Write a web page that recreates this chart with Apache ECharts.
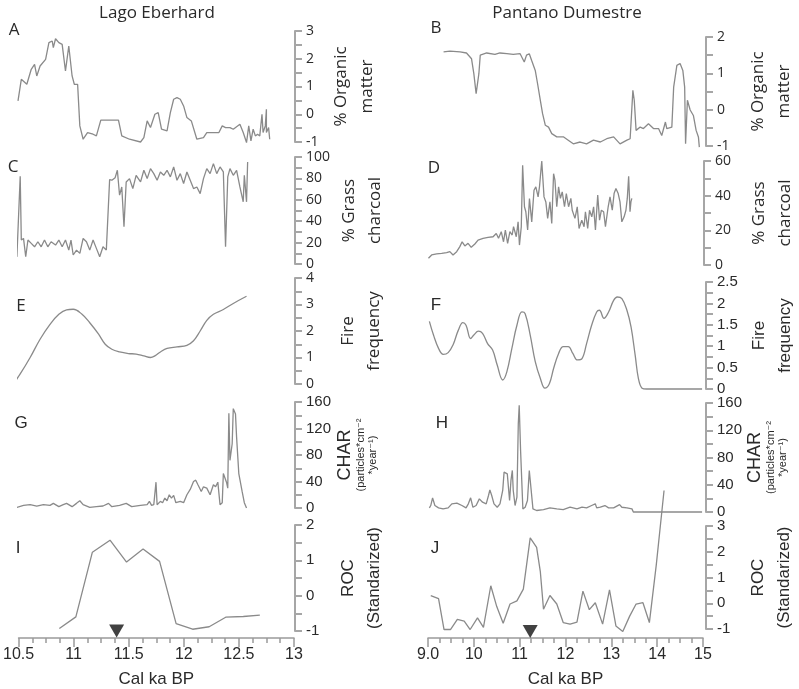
<!DOCTYPE html>
<html><head><meta charset="utf-8">
<script src="https://cdn.jsdelivr.net/npm/echarts/dist/echarts.min.js"></script>
<style>html,body{margin:0;padding:0;background:#fff}#c{width:799px;height:689px}</style>
</head><body><div id="c"></div>
<script>
// ---- Data (x = Cal ka BP, y = value) ----
const organicEberhard = [[10.50,0.48],[10.53,1.26],[10.58,1.08],[10.62,1.62],[10.65,1.80],[10.67,1.38],[10.70,1.74],[10.75,1.98],[10.78,2.58],[10.81,2.64],[10.82,2.40],[10.84,2.72],[10.87,2.58],[10.90,2.52],[10.93,1.56],[10.96,2.46],[10.99,1.38],[11.01,1.08],[11.04,1.08],[11.06,-0.42],[11.09,-0.90],[11.13,-0.66],[11.18,-0.72],[11.21,-0.78],[11.25,-0.21],[11.41,-0.21],[11.44,-0.78],[11.51,-0.90],[11.61,-1.00],[11.64,-0.84],[11.67,-0.24],[11.70,-0.48],[11.74,0.00],[11.77,0.06],[11.80,-0.54],[11.85,-0.60],[11.88,0.06],[11.91,0.54],[11.94,0.60],[11.97,0.54],[12.00,0.30],[12.03,-0.12],[12.07,-0.24],[12.12,-0.90],[12.18,-0.84],[12.21,-0.66],[12.32,-0.66],[12.35,-0.42],[12.38,-0.48],[12.42,-0.48],[12.45,-0.54],[12.51,-0.36],[12.54,-0.66],[12.57,-1.02],[12.59,-0.42],[12.61,-0.96],[12.63,-0.54],[12.65,-0.78],[12.67,-0.72],[12.69,-0.78],[12.71,0.00],[12.72,-0.66],[12.74,-0.42],[12.75,0.18],[12.75,-0.66],[12.77,-0.48],[12.78,-0.90]];

const organicDumestre = [[9.34,1.59],[9.48,1.61],[9.70,1.59],[9.84,1.56],[9.95,1.40],[10.00,0.99],[10.05,0.44],[10.08,0.39],[10.11,0.99],[10.14,1.50],[10.28,1.56],[10.46,1.52],[10.57,1.56],[10.72,1.54],[10.86,1.52],[11.01,1.54],[11.10,1.31],[11.15,1.50],[11.21,1.54],[11.26,1.36],[11.34,1.08],[11.39,0.72],[11.45,0.26],[11.50,-0.11],[11.56,-0.43],[11.63,-0.48],[11.70,-0.66],[11.81,-0.75],[11.96,-0.75],[12.06,-0.84],[12.17,-0.94],[12.32,-0.89],[12.46,-0.94],[12.61,-0.84],[12.76,-0.89],[12.90,-0.80],[13.05,-0.75],[13.19,-0.94],[13.34,-0.84],[13.41,-0.80],[13.47,0.53],[13.50,0.26],[13.54,-0.57],[13.63,-0.48],[13.70,-0.52],[13.81,-0.39],[13.92,-0.52],[14.03,-0.52],[14.10,-0.71],[14.18,-0.34],[14.21,-0.52],[14.32,-0.48],[14.36,0.62],[14.43,1.22],[14.50,1.27],[14.56,1.08],[14.60,0.62],[14.62,-0.94],[14.66,0.26],[14.72,-0.01],[14.79,-0.16],[14.85,-0.57],[14.90,-0.75],[14.92,-1.03]];

const grassEberhard = [[10.42,19.3],[10.44,6.8],[10.47,8.4],[10.49,6.8],[10.52,82.0],[10.53,22.4],[10.55,23.9],[10.57,6.8],[10.59,22.4],[10.62,19.3],[10.65,16.1],[10.68,20.8],[10.71,16.1],[10.74,22.4],[10.77,16.1],[10.80,20.8],[10.84,17.7],[10.87,22.4],[10.90,16.1],[10.93,22.4],[10.96,13.0],[10.98,22.4],[11.00,8.4],[11.03,13.0],[11.06,9.9],[11.09,23.9],[11.12,20.8],[11.15,13.0],[11.18,22.4],[11.21,14.6],[11.24,6.8],[11.27,16.1],[11.30,13.0],[11.33,78.9],[11.35,78.3],[11.38,80.7],[11.40,87.6],[11.42,64.3],[11.44,72.0],[11.46,34.8],[11.48,76.7],[11.51,79.8],[11.54,70.5],[11.57,82.9],[11.61,76.7],[11.64,87.6],[11.67,79.8],[11.70,89.1],[11.73,84.5],[11.76,78.3],[11.79,86.0],[11.82,82.9],[11.85,87.6],[11.88,81.4],[11.91,90.7],[11.94,78.3],[11.97,84.5],[12.00,75.2],[12.03,86.0],[12.06,78.3],[12.09,70.5],[12.12,72.0],[12.15,65.8],[12.18,79.8],[12.21,89.1],[12.24,84.5],[12.27,93.8],[12.30,84.5],[12.33,90.7],[12.36,86.0],[12.38,16.1],[12.40,81.4],[12.42,89.1],[12.45,82.9],[12.48,87.6],[12.51,72.0],[12.54,58.1],[12.55,82.9],[12.57,58.1],[12.58,95.3]];

const grassDumestre = [[9.01,3.9],[9.08,5.8],[9.19,6.4],[9.30,6.7],[9.41,7.1],[9.48,7.7],[9.55,5.8],[9.63,7.7],[9.70,10.6],[9.75,13.4],[9.81,11.0],[9.88,12.5],[9.95,10.2],[10.03,12.1],[10.10,14.4],[10.21,15.4],[10.32,15.9],[10.43,16.3],[10.50,18.2],[10.55,15.4],[10.61,19.2],[10.66,13.4],[10.70,20.2],[10.75,12.5],[10.80,19.2],[10.85,17.3],[10.88,22.1],[10.94,16.3],[10.98,24.9],[11.01,11.5],[11.05,22.1],[11.08,57.5],[11.12,33.6],[11.15,30.7],[11.19,20.2],[11.23,38.4],[11.28,24.9],[11.33,43.1],[11.37,45.1],[11.42,39.3],[11.45,45.1],[11.50,60.0],[11.55,39.3],[11.59,36.4],[11.63,26.9],[11.68,36.4],[11.72,24.0],[11.76,52.7],[11.79,48.9],[11.83,33.6],[11.87,45.1],[11.91,38.4],[11.95,42.2],[12.00,33.6],[12.04,41.2],[12.09,33.6],[12.14,38.4],[12.17,31.6],[12.23,26.9],[12.28,33.6],[12.32,21.1],[12.38,25.9],[12.43,22.1],[12.46,30.7],[12.51,21.1],[12.55,31.6],[12.60,27.8],[12.64,33.6],[12.68,20.2],[12.73,40.3],[12.77,25.9],[12.81,31.6],[12.86,30.7],[12.90,22.1],[12.96,33.6],[13.00,39.3],[13.05,31.6],[13.09,41.2],[13.13,44.1],[13.18,41.2],[13.22,36.4],[13.26,24.9],[13.31,27.8],[13.35,31.6],[13.38,38.4],[13.41,51.2],[13.44,30.7],[13.46,36.4],[13.48,38.4]];

const fireEberhard = [[10.44,-0.1],[10.52,0.38],[10.61,1.0],[10.70,1.69],[10.79,2.25],[10.87,2.63],[10.94,2.80],[11.00,2.82],[11.08,2.63],[11.15,2.31],[11.23,1.88],[11.29,1.50],[11.35,1.31],[11.42,1.21],[11.50,1.15],[11.57,1.13],[11.64,1.06],[11.70,1.00],[11.74,1.06],[11.79,1.21],[11.85,1.34],[11.94,1.40],[12.03,1.46],[12.09,1.63],[12.15,2.00],[12.21,2.40],[12.27,2.63],[12.36,2.81],[12.45,3.04],[12.57,3.31]];

const fireDumestre = [[9.03,1.58],[9.12,1.26],[9.23,0.95],[9.33,0.81],[9.44,0.85],[9.55,1.04],[9.66,1.37],[9.76,1.55],[9.83,1.49],[9.93,1.18],[10.00,1.26],[10.10,1.35],[10.19,1.30],[10.30,1.06],[10.41,0.91],[10.51,0.56],[10.63,0.21],[10.72,0.40],[10.83,0.95],[10.94,1.49],[11.05,1.80],[11.12,1.76],[11.23,1.26],[11.34,0.64],[11.45,0.25],[11.55,0.02],[11.65,0.13],[11.74,0.48],[11.85,0.83],[11.95,0.99],[12.06,0.99],[12.16,0.83],[12.26,0.68],[12.36,0.71],[12.46,1.06],[12.57,1.49],[12.68,1.80],[12.74,1.84],[12.84,1.65],[12.94,1.80],[13.05,2.07],[13.13,2.15],[13.23,2.11],[13.34,1.84],[13.43,1.45],[13.52,0.79],[13.59,0.25],[13.67,0.02],[13.77,0],[14.21,0],[14.98,0]];

const charEberhard = [[10.43,2],[10.49,1],[10.55,4],[10.61,5],[10.67,3],[10.73,5],[10.79,4],[10.82,7],[10.87,2],[10.91,5],[10.94,7],[10.99,2],[11.03,7],[11.06,11],[11.09,5],[11.15,1],[11.21,2],[11.27,3],[11.32,7],[11.35,2],[11.42,4],[11.48,7],[11.53,2],[11.61,4],[11.67,5],[11.69,10],[11.71,4],[11.73,5],[11.75,39],[11.76,5],[11.79,10],[11.81,8],[11.83,15],[11.85,11],[11.87,20],[11.89,15],[11.91,19],[11.93,8],[11.97,10],[12.00,8],[12.03,20],[12.06,28],[12.09,40],[12.11,42],[12.13,35],[12.16,25],[12.18,32],[12.21,30],[12.24,20],[12.27,35],[12.29,32],[12.31,39],[12.33,5],[12.35,8],[12.36,52],[12.39,38],[12.40,30],[12.41,143],[12.42,72],[12.44,97],[12.45,150],[12.47,142],[12.48,107],[12.50,52],[12.53,25],[12.55,8],[12.57,0]];

const charDumestre = [[9.03,6],[9.06,9.5],[9.10,20.8],[9.15,9.5],[9.23,6],[9.33,4.6],[9.44,6],[9.52,12],[9.63,13],[9.74,9.5],[9.83,6],[9.88,12],[9.93,20.8],[9.98,7],[10.05,9.5],[10.12,19.3],[10.19,14.4],[10.27,12],[10.32,24.2],[10.35,32.5],[10.39,24.2],[10.44,12],[10.51,7],[10.57,12],[10.63,31.6],[10.66,58.5],[10.70,61],[10.73,56],[10.78,16.9],[10.81,46.3],[10.84,61],[10.86,31.6],[10.90,9.5],[10.94,21.8],[10.97,129.6],[10.99,156.6],[11.02,90.4],[11.07,4.6],[11.12,7],[11.17,16.9],[11.21,61],[11.25,58.5],[11.29,4.6],[11.37,2.2],[11.52,3.6],[11.66,6],[11.81,4.6],[11.95,3.6],[12.10,7],[12.25,4.6],[12.36,7],[12.46,6],[12.57,9.5],[12.65,12],[12.68,6],[12.76,7],[12.86,9.5],[12.94,6],[13.05,6],[13.18,10.9],[13.23,7],[13.34,6],[13.45,4.6],[13.48,0],[14.98,0]];

const rocEberhard = [[10.87,-0.93],[11.02,-0.60],[11.17,1.23],[11.33,1.57],[11.48,0.95],[11.63,1.32],[11.78,0.97],[11.93,-0.79],[12.08,-0.95],[12.23,-0.88],[12.38,-0.61],[12.54,-0.59],[12.69,-0.55]];

const rocDumestre = [[9.06,0.30],[9.23,0.18],[9.35,-1.02],[9.49,-1.02],[9.64,-0.63],[9.79,-0.69],[9.92,-1.02],[10.08,-0.57],[10.21,-0.94],[10.37,0.68],[10.50,-0.13],[10.64,-0.78],[10.79,-0.03],[10.94,0.09],[11.08,0.55],[11.23,2.54],[11.37,2.17],[11.45,1.24],[11.52,-0.23],[11.66,0.30],[11.81,-0.03],[11.95,-0.75],[12.10,-0.81],[12.25,-0.73],[12.38,0.47],[12.52,-0.25],[12.65,0.02],[12.81,-0.81],[12.96,0.52],[13.10,-0.88],[13.25,-1.10],[13.40,-0.50],[13.54,-0.03],[13.69,0.02],[13.83,-0.75],[13.98,1.48],[14.15,4.38]];

const markerEberhard = [[11.39, -1.0]];
const markerDumestre = [[11.23, -1.1]];

const eberhardTicks = {min: 10.5, max: 13, interval: 0.5};
const dumestreTicks = {min: 9, max: 15, interval: 1};

// ---- Layout ----
const LEFT = Object.assign({left: 18, width: 276}, eberhardTicks);
const RIGHT = Object.assign({left: 428, width: 275}, dumestreTicks);
const OS = "'Open Sans', sans-serif";
const LS = "'Liberation Sans', Arial, 'DejaVu Sans', sans-serif";
const charName = '{a|CHAR}\n{b|(particles*cm⁻²}\n{b|*year⁻¹)}';

const panels = [
  {id:'A', col:LEFT,  top:31,  h:111, ymin:-1, ymax:3,   yint:1,   data:organicEberhard, name:'% Organic\nmatter',  ff:OS, fs:14, gap:33},
  {id:'B', col:RIGHT, top:37,  h:109, ymin:-1, ymax:2,   yint:1,   data:organicDumestre, name:'% Organic\nmatter',  ff:OS, fs:14, gap:39},
  {id:'C', col:LEFT,  top:157, h:107, ymin:0,  ymax:100, yint:20,  data:grassEberhard,   name:'% Grass\ncharcoal',  ff:OS, fs:14, gap:41},
  {id:'D', col:RIGHT, top:161, h:104, ymin:0,  ymax:60,  yint:20,  data:grassDumestre,   name:'% Grass\ncharcoal',  ff:OS, fs:14, gap:42},
  {id:'E', col:LEFT,  top:278, h:106, ymin:0,  ymax:4,   yint:1,   data:fireEberhard,    name:'Fire\nfrequency',    ff:OS, fs:14, gap:40, smooth:0.4},
  {id:'F', col:RIGHT, top:282, h:107, ymin:0,  ymax:2.5, yint:0.5, data:fireDumestre,    name:'Fire\nfrequency',    ff:LS, fs:15, gap:40, smooth:0.4},
  {id:'G', col:LEFT,  top:402, h:106, ymin:0,  ymax:160, yint:40,  data:charEberhard,    name:charName,             ff:LS, fs:15, gap:40, rich:true},
  {id:'H', col:RIGHT, top:403, h:109, ymin:0,  ymax:160, yint:40,  data:charDumestre,    name:charName,             ff:LS, fs:15, gap:37, rich:true},
  {id:'I', col:LEFT,  top:525, h:110, ymin:-1, ymax:2,   yint:1,   data:rocEberhard,     name:'ROC\n(Standarized)', ff:LS, fs:15, gap:40, marker:markerEberhard, axisOffset:7},
  {id:'J', col:RIGHT, top:526, h:107, ymin:-1, ymax:3,   yint:1,   data:rocDumestre,     name:'ROC\n(Standarized)', ff:LS, fs:15, gap:39, marker:markerDumestre, axisOffset:9}
];

const grid = [], xAxis = [], yAxis = [], series = [], graphic = [];
const AXC = '#a6a6a6', TXT = '#2a2a2a', LINEC = '#8a8a8a';

panels.forEach((p, i) => {
  grid.push({left: p.col.left, width: p.col.width, top: p.top, height: p.h, containLabel: false});
  const bottom = p.axisOffset !== undefined;
  xAxis.push({
    gridIndex: i, type: 'value', min: p.col.min, max: p.col.max, interval: p.col.interval,
    show: bottom, position: 'bottom', offset: bottom ? p.axisOffset : 0,
    axisLine: {show: true, onZero: false, lineStyle: {color: '#9a9a9a', width: 1.5}},
    axisTick: {show: true, length: 9, lineStyle: {color: '#9a9a9a', width: 1.5}},
    minorTick: {show: true, splitNumber: 4, length: 5, lineStyle: {color: '#9a9a9a', width: 1.5}},
    splitLine: {show: false},
    axisLabel: {show: true, margin: 9, color: TXT, fontSize: 16, fontFamily: LS,
      formatter: v => (p.col === RIGHT && v === 9) ? '9.0' : String(v), showMaxLabel: true},
    name: 'Cal ka BP', nameLocation: 'middle', nameGap: 33,
    nameTextStyle: {color: TXT, fontSize: 17, fontFamily: LS}
  });
  const nameStyle = p.rich ? {
      color: TXT, fontFamily: LS,
      rich: {a: {fontSize: 18, lineHeight: 20, fontFamily: LS, color: TXT},
             b: {fontSize: 11, lineHeight: 12, fontFamily: LS, color: TXT}}
    } : {color: TXT, fontSize: 17, lineHeight: 26, fontFamily: p.ff};
  yAxis.push({
    gridIndex: i, type: 'value', position: 'right', min: p.ymin, max: p.ymax, interval: p.yint,
    offset: p.col === RIGHT ? 3 : 1,
    axisLine: {show: true, onZero: false, lineStyle: {color: AXC, width: 2}},
    axisTick: {show: true, length: 7, lineStyle: {color: AXC, width: 2}},
    minorTick: {show: true, splitNumber: 2, length: 7, lineStyle: {color: AXC, width: 2}},
    splitLine: {show: false},
    axisLabel: {margin: 11, color: TXT, fontSize: p.fs, fontFamily: p.ff},
    name: p.name, nameLocation: 'middle', nameRotate: 90, nameGap: p.gap,
    nameTextStyle: nameStyle
  });
  series.push({
    type: 'line', xAxisIndex: i, yAxisIndex: i, data: p.data, showSymbol: false,
    smooth: p.smooth || false, clip: false,
    lineStyle: {color: LINEC, width: 1.3}, itemStyle: {color: LINEC}
  });
  if (p.marker) {
    series.push({
      type: 'scatter', xAxisIndex: i, yAxisIndex: i, data: p.marker, clip: false,
      symbol: 'triangle', symbolRotate: 180, symbolSize: [15, 13],
      itemStyle: {color: '#111'}
    });
  }
  const letterPos = {A:[14,30],B:[436,28],C:[13,167],D:[434,168],E:[21,306],F:[436,305],G:[21,423],H:[442,423],I:[18,548],J:[435,548]}[p.id];
  graphic.push({type: 'text', x: letterPos[0], y: letterPos[1],
    style: {text: p.id, fontSize: 17, fontFamily: p.ff, fill: TXT, align: 'center', verticalAlign: 'middle'}});
});

graphic.push({type: 'text', x: 157, y: 13, style: {text: 'Lago Eberhard', fontSize: 17, fontFamily: OS, fill: TXT, align: 'center', verticalAlign: 'middle'}});
graphic.push({type: 'text', x: 567, y: 13, style: {text: 'Pantano Dumestre', fontSize: 17, fontFamily: OS, fill: TXT, align: 'center', verticalAlign: 'middle'}});

const chart = echarts.init(document.getElementById('c'), null, {renderer: 'canvas'});
chart.setOption({animation: false, backgroundColor: '#fff', grid, xAxis, yAxis, series, graphic});
</script>
</body></html>
